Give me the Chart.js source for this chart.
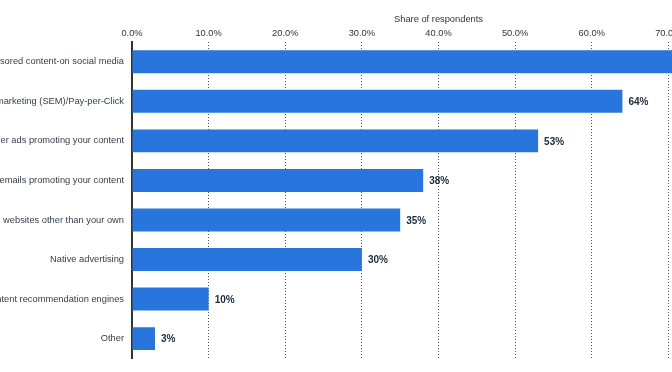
<!DOCTYPE html>
<html lang="en">
  <head>
    <meta charset="UTF-8" />
    <title>Paid content distribution channels</title>
    <script src="https://cdn.jsdelivr.net/npm/chart.js"></script>
    <style>
      html, body { margin: 0; padding: 0; overflow: hidden; background: #fff; }
      #wrap { position: absolute; left: -200px; top: 0; width: 1000px; height: 372px; }
    </style>
  </head>
  <body>
    <div id="wrap">
      <canvas id="myChart"></canvas>
    </div>

    <script>
      // chart data
      const categories = [
        "Sponsored content-on social media",
        "Search engine marketing (SEM)/Pay-per-Click",
        "Banner ads promoting your content",
        "Sponsored emails promoting your content",
        "Sponsored content on websites other than your own",
        "Native advertising",
        "Content recommendation engines",
        "Other",
      ];
      const shares = [72, 64, 53, 38, 35, 30, 10, 3];
      const axisTitle = "Share of respondents";

      const font = "'Liberation Sans', Arial, sans-serif";

      // value labels at the end of each bar
      const barLabels = {
        id: "barLabels",
        afterDatasetsDraw(chart) {
          const { ctx } = chart;
          const meta = chart.getDatasetMeta(0);
          ctx.save();
          ctx.font = `bold 10px ${font}`;
          ctx.fillStyle = "#1c2a3b";
          ctx.textAlign = "left";
          ctx.textBaseline = "middle";
          meta.data.forEach((bar, i) => {
            ctx.fillText(shares[i] + "%", bar.x + 6, bar.y + 1);
          });
          ctx.restore();
        },
      };

      new Chart(document.getElementById("myChart"), {
        type: "bar",
        data: {
          labels: categories,
          datasets: [
            {
              data: shares,
              backgroundColor: "#2876dd",
              borderWidth: 0,
              barPercentage: 0.58,
              categoryPercentage: 1,
            },
          ],
        },
        options: {
          indexAxis: "y",
          responsive: true,
          maintainAspectRatio: false,
          animation: false,
          layout: { padding: { left: 0, right: 55, top: 0, bottom: 12 } },
          plugins: {
            legend: { display: false },
            tooltip: { enabled: false },
          },
          scales: {
            x: {
              position: "top",
              min: 0,
              max: 80,
              afterFit(scale) {
                scale.height = 42;
              },
              title: {
                display: true,
                text: axisTitle,
                color: "#333",
                font: { family: font, size: 9.3 },
                padding: { top: 14, bottom: 0 },
              },
              ticks: {
                stepSize: 10,
                color: "#333",
                padding: 3,
                font: { family: font, size: 9.3 },
                callback: (v) => v.toFixed(1) + "%",
              },
              grid: {
                color: "#555",
                lineWidth: 1,
                drawTicks: false,
              },
              border: { display: false, dash: [1, 2] },
            },
            y: {
              afterFit(scale) {
                scale.width = 332;
              },
              ticks: {
                color: "#333d48",
                padding: 8,
                font: { family: font, size: 9.3 },
              },
              grid: { display: false, drawTicks: false },
              border: { display: true, color: "#333", width: 2 },
            },
          },
        },
        plugins: [barLabels],
      });
    </script>
  </body>
</html>
